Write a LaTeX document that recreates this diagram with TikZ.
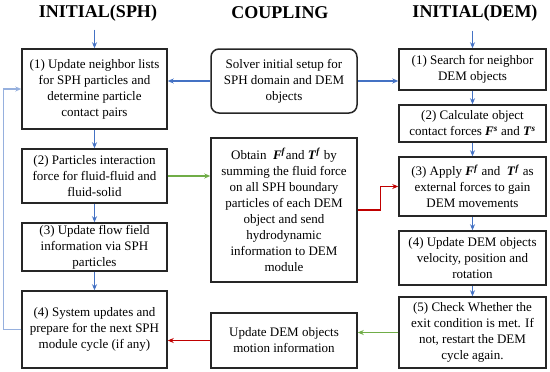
\documentclass[tikz,border=0pt]{standalone}
\usepackage{fontspec}
\setmainfont{Liberation Serif}
\usetikzlibrary{arrows.meta}
\definecolor{ablue}{RGB}{68,114,196}
\definecolor{lblue}{RGB}{150,176,222}
\definecolor{agreen}{RGB}{112,173,71}
\definecolor{ared}{RGB}{192,0,0}
\newcommand{\bi}[1]{\textbf{\textit{#1}}}
\begin{document}
\begin{tikzpicture}[x=1pt,y=-1pt,
  box/.style={draw=black!85, line width=1.5pt, inner sep=0pt, align=center, font=\fontsize{13}{16}\selectfont},
  ttl/.style={font=\fontsize{18}{20}\selectfont\bfseries},
  arr/.style={line width=1.3pt, -{Stealth[length=6pt,width=5pt]}},
  barr/.style={arr, draw=ablue},
  garr/.style={arr, draw=agreen},
  rarr/.style={arr, draw=ared}]
\useasboundingbox (0,0) rectangle (550,372);
% titles
\node[ttl] (tSPH) at (98,13) {INITIAL(SPH)};
\node[ttl] (tCPL) at (280,13) {COUPLING};
\node[ttl] (tDEM) at (475,13) {INITIAL(DEM)};
% left column
\node[box, minimum width=145pt, minimum height=80pt] (L1) at (94.5,89) {(1) Update neighbor lists\\for SPH particles and\\determine particle\\contact pairs};
\node[box, minimum width=145pt, minimum height=54pt] (L2) at (94.5,176) {(2) Particles interaction\\force for fluid-fluid and\\fluid-solid};
\node[box, minimum width=145pt, minimum height=48pt] (L3) at (94.5,247) {(3) Update flow field\\information via SPH\\particles};
\node[box, minimum width=145pt, minimum height=77pt] (L4) at (94.5,329.5) {(4) System updates and\\prepare for the next SPH\\module cycle (if any)};
% center column
\node[box, rounded corners=8pt, minimum width=146pt, minimum height=64pt] (C1) at (284,81) {Solver initial setup for\\SPH domain and DEM\\objects};
\node[box, minimum width=146pt, minimum height=144pt] (C2) at (284,210) {Obtain \ \bi{F}\textsuperscript{\bi{f}}and \bi{T}\textsuperscript{\bi{f}} by\\summing the fluid force\\on all SPH boundary\\particles of each DEM\\object and send\\hydrodynamic\\information to DEM\\module};
\node[box, minimum width=146pt, minimum height=55pt] (C3) at (284,340.5) {Update DEM objects\\motion information};
% right column
\node[box, minimum width=147pt, minimum height=41pt] (R1) at (472.5,69.5) {(1) Search for neighbor\\DEM objects};
\node[box, minimum width=147pt, minimum height=37pt] (R2) at (472.5,123.5) {(2) Calculate object\\contact forces \bi{F}\textsuperscript{\bi{s}} and \bi{T}\textsuperscript{\bi{s}}};
\node[box, minimum width=147pt, minimum height=59pt] (R3) at (472.5,186.5) {(3) Apply \bi{F}\textsuperscript{\bi{f}} and \ \bi{T}\textsuperscript{\bi{f}} as\\external forces to gain\\DEM movements};
\node[box, minimum width=147pt, minimum height=54pt] (R4) at (472.5,258) {(4) Update DEM objects\\velocity, position and\\rotation};
\node[box, minimum width=147pt, minimum height=71pt] (R5) at (472.5,332.5) {(5) Check Whether the\\exit condition is met. If\\not, restart the DEM\\cycle again.};
% title arrows
\draw[barr] ([yshift=-5pt]tSPH.south -| L1.north) -- (L1.north);
\draw[barr] ([yshift=-6pt]tDEM.south -| R1.north) -- (R1.north);
% vertical arrows
\draw[barr] (L1.south) -- (L2.north);
\draw[barr] (L2.south) -- (L3.north);
\draw[barr] (L3.south) -- (L4.north);
\draw[barr] (R1.south) -- (R2.north);
\draw[barr] (R2.south) -- (R3.north);
\draw[barr] (R3.south) -- (R4.north);
\draw[barr] (R4.south) -- (R5.north);
% horizontal connectors
\draw[barr] (C1.west) -- (L1.east |- C1.west);
\draw[barr] (C1.east) -- (R1.west |- C1.east);
\draw[garr] (L2.east) -- (C2.west |- L2.east);
\draw[rarr] (C2.east) -- ++(23,0) |- (R3.west);
\draw[garr] (R5.west) -- (C3.east |- R5.west);
\draw[rarr] (C3.west) -- (L4.east |- C3.west);
% feedback loop
\draw[arr, draw=lblue] (L4.west) -- ++(-18,0) |- (L1.west);
\end{tikzpicture}
\end{document}
